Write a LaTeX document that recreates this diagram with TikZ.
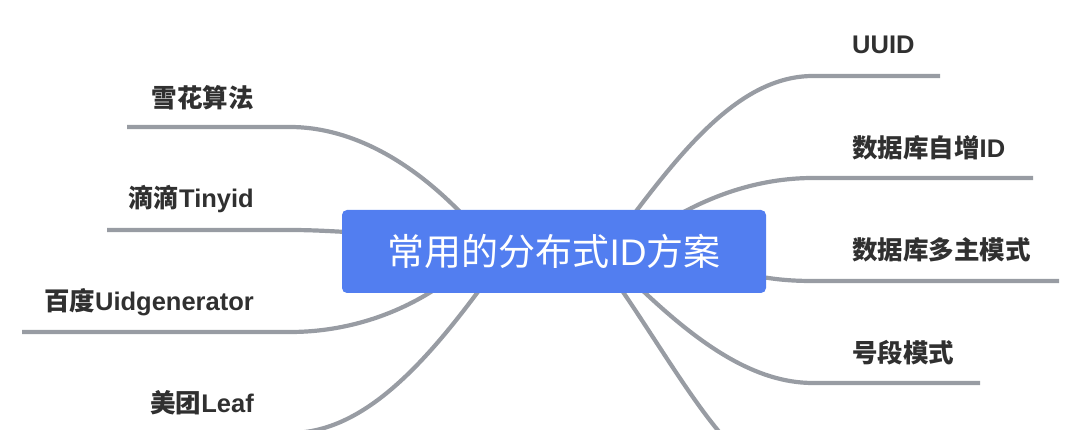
\documentclass[tikz,border=0pt]{standalone}
\usepackage{fontspec}
\newfontfamily\cjk{Noto Sans CJK SC}
\newfontfamily\lat{Liberation Sans}
\definecolor{boxblue}{RGB}{82,126,240}
\definecolor{linegray}{RGB}{152,156,163}
\definecolor{labeltext}{RGB}{48,48,48}
\begin{document}
\begin{tikzpicture}[x=1pt,y=-1pt,
  branch/.style={draw=linegray,line width=4.2pt,line cap=butt},
  lbl/.style={inner sep=0pt,text=labeltext,font=\cjk\bfseries\fontsize{25.5}{30}\selectfont},
  center/.style={fill=boxblue,rounded corners=5pt,minimum width=424pt,minimum height=83pt,inner sep=0pt,text=white,font=\cjk\fontsize{37}{42}\selectfont}]
\useasboundingbox (0,0) rectangle (1080,430);
\clip (0,0) rectangle (1080,430);
% coordinates of line ends and elbows
\coordinate (l1e) at (127,127); \coordinate (l1k) at (290,127);
\coordinate (l2e) at (107,230); \coordinate (l2k) at (290,230);
\coordinate (l3e) at (22,332);  \coordinate (l3k) at (290,332);
\coordinate (l4e) at (120,433); \coordinate (l4k) at (290,433);
\coordinate (r1e) at (940,76);  \coordinate (r1k) at (813,76);
\coordinate (r2e) at (1033,178);\coordinate (r2k) at (813,178);
\coordinate (r3e) at (1059,281);\coordinate (r3k) at (813,281);
\coordinate (r4e) at (980,383); \coordinate (r4k) at (813,383);
\coordinate (r5e) at (900,490); \coordinate (r5k) at (813,490);
% connectors (drawn first, under the box)
\draw[branch] (462,214) .. controls (405,155) and (345,127) .. (l1k) -- (l1e);
\draw[branch] (346,232) .. controls (320,230.5) and (305,230) .. (l2k) -- (l2e);
\draw[branch] (434,290) .. controls (390,318) and (340,332) .. (l3k) -- (l3e);
\draw[branch] (480,289) .. controls (420,370) and (360,433) .. (l4k) -- (l4e);
\draw[branch] (634,214) .. controls (690,140) and (745,76) .. (r1k) -- (r1e);
\draw[branch] (680,214) .. controls (720,192) and (765,178) .. (r2k) -- (r2e);
\draw[branch] (762,277) .. controls (780,280) and (795,281) .. (r3k) -- (r3e);
\draw[branch] (641,289) .. controls (700,345) and (755,383) .. (r4k) -- (r4e);
\draw[branch] (621,289) .. controls (690,390) and (740,490) .. (r5k) -- (r5e);
% central node
\node[center] (c) at (554,251.5) {\raisebox{2pt}{常用的分布式{\lat ID}方案}};
% labels
\node[lbl,anchor=east] (n1) at (254,98) {雪花算法};
\node[lbl,anchor=east] (n2) at (254,199) {滴滴{\lat Tinyid}};
\node[lbl,anchor=east] (n3) at (254,302) {百度{\lat Uidgenerator}};
\node[lbl,anchor=east] (n4) at (254,403) {美团{\lat Leaf}};
\node[lbl,anchor=west] (m1) at (852,45) {{\lat UUID}};
\node[lbl,anchor=west] (m2) at (852,148) {数据库自增{\lat ID}};
\node[lbl,anchor=west] (m3) at (852,250) {数据库多主模式};
\node[lbl,anchor=west] (m4) at (852,353) {号段模式};
\end{tikzpicture}
\end{document}
